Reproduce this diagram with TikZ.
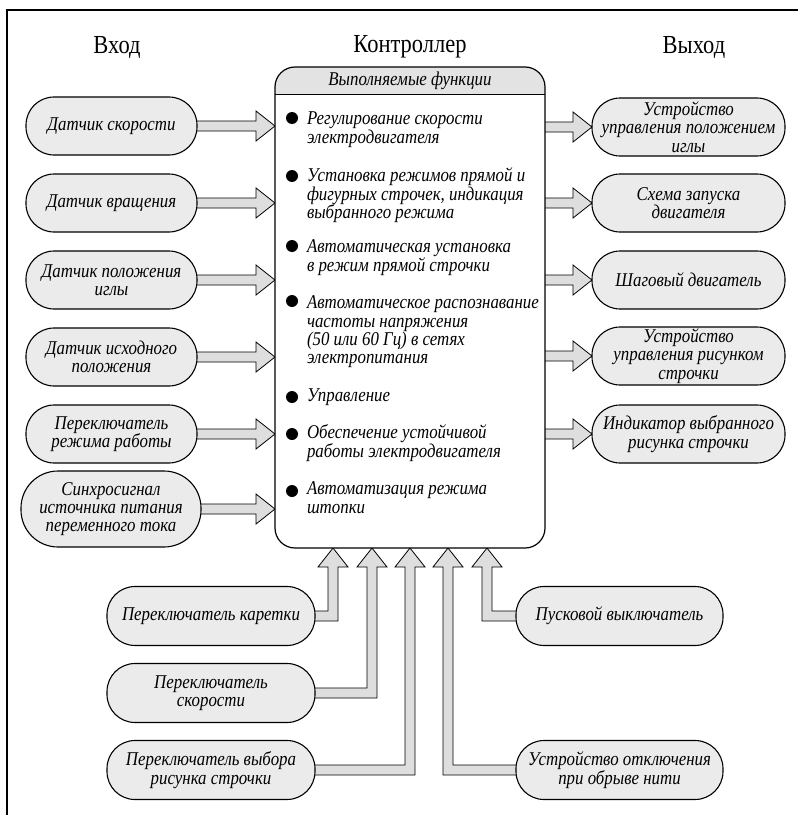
\documentclass[tikz,border=0pt]{standalone}
\usepackage{fontspec}
\setmainfont{Liberation Serif}[FakeStretch=0.865]
\usetikzlibrary{calc,backgrounds}
\definecolor{boxfill}{gray}{0.92}
\definecolor{arrfill}{gray}{0.87}
\definecolor{hdrfill}{gray}{0.89}
\tikzset{
  every node/.style={inner sep=0pt, outer sep=0pt},
  txt/.style={font=\fontsize{19.5bp}{18.3bp}\selectfont\itshape},
  pill/.style={txt, draw, fill=boxfill, line width=1.1bp, rounded corners=28bp,
    minimum height=58bp, align=center},
  titletext/.style={font=\fontsize{26bp}{28bp}\selectfont},
  fat/.style={draw, fill=arrfill, line width=0.8bp, line join=miter},
  itemtext/.style={txt, anchor=base west, align=left},
  bul/.style={fill=black, circle, minimum size=12bp},
}
\newcommand\arrR[2]{%
  \filldraw[fat] ($(#1)+(0,-5)$) -- ($(#2)+(-19,-5)$) -- ($(#2)+(-19,-15)$) -- (#2)
    -- ($(#2)+(-19,15)$) -- ($(#2)+(-19,5)$) -- ($(#1)+(0,5)$);}
\newcommand\arrUL[3]{%
  \filldraw[fat] ($(#1)+(0,-5)$) -- ($(#2)+(-5,-5)$) -- ($(#3)+(-5,19)$) -- ($(#3)+(-15,19)$)
    -- (#3) -- ($(#3)+(15,19)$) -- ($(#3)+(5,19)$) -- ($(#2)+(5,5)$) -- ($(#1)+(0,5)$);}
\newcommand\arrUR[3]{%
  \filldraw[fat] ($(#1)+(0,-5)$) -- ($(#2)+(5,-5)$) -- ($(#3)+(5,19)$) -- ($(#3)+(15,19)$)
    -- (#3) -- ($(#3)+(-15,19)$) -- ($(#3)+(-5,19)$) -- ($(#2)+(-5,5)$) -- ($(#1)+(0,5)$);}
\begin{document}
\begin{tikzpicture}[x=1bp,y=-1bp]
\useasboundingbox (0,0) rectangle (798,815);
\draw[line width=1.1bp] (798,10) -- (7,10) -- (7,815);

% titles
\node[titletext] (tin) at (117,48) {Вход};
\node[titletext] (tctrl) at (410,47) {Контроллер};
\node[titletext] (tout) at (694,48) {Выход};

% controller
\node[fill=white, minimum width=270bp, minimum height=481bp] (ctrl) at (410,307.5) {};
\begin{scope}
  \clip[rounded corners=20bp] (ctrl.south west) rectangle (ctrl.north east);
  \fill[hdrfill] (ctrl.north west) rectangle ($(ctrl.north east)+(0,28)$);
\end{scope}
\draw[line width=1bp] ($(ctrl.north west)+(0,28)$) -- ($(ctrl.north east)+(0,28)$);
\draw[line width=1.2bp, rounded corners=20bp] (ctrl.south west) rectangle (ctrl.north east);
\node[txt] (hdr) at (410,81) {Выполняемые функции};

% functions (anchor at baseline of the last line)
\node[bul] (d1) at (292,118) {};
\node[itemtext] (f1) at (307,143) {Регулирование скорости\\электродвигателя};
\node[bul] (d2) at (292,176) {};
\node[itemtext] (f2) at (307,218.3) {Установка режимов прямой и\\фигурных строчек, индикация\\выбранного режима};
\node[bul] (d3) at (292,246) {};
\node[itemtext] (f3) at (307,271) {Автоматическая установка\\в режим прямой строчки};
\node[bul] (d4) at (292,301) {};
\node[itemtext] (f4) at (307,363.6) {Автоматическое распознавание\\частоты напряжения\\(50 или 60 Гц) в сетях\\электропитания};
\node[bul] (d5) at (292,397) {};
\node[itemtext] (f5) at (307,401.7) {Управление};
\node[bul] (d6) at (292,434) {};
\node[itemtext] (f6) at (307,457) {Обеспечение устойчивой\\работы электродвигателя};
\node[bul] (d7) at (292,491) {};
\node[itemtext] (f7) at (307,513) {Автоматизация режима\\штопки};

% inputs
\node[pill, minimum width=171bp] (in1) at (111.5,126) {Датчик скорости};
\node[pill, minimum width=171bp] (in2) at (111.5,203) {Датчик вращения};
\node[pill, minimum width=171bp] (in3) at (111.5,280) {Датчик положения\\иглы};
\node[pill, minimum width=171bp] (in4) at (111.5,357) {Датчик исходного\\положения};
\node[pill, minimum width=171bp] (in5) at (111.5,434) {Переключатель\\режима работы};
\node[pill, minimum width=180bp, minimum height=76bp, rounded corners=37bp] (in6) at (111,509) {Синхросигнал\\источника питания\\переменного тока};

% outputs
\node[pill, minimum width=193bp] (out1) at (688.5,127) {Устройство\\управления положением\\иглы};
\node[pill, minimum width=193bp] (out2) at (688.5,203) {Схема запуска\\двигателя};
\node[pill, minimum width=193bp] (out3) at (688.5,280) {Шаговый двигатель};
\node[pill, minimum width=193bp] (out4) at (688.5,356) {Устройство\\управления рисунком\\строчки};
\node[pill, minimum width=193bp] (out5) at (688.5,434) {Индикатор выбранного\\рисунка строчки};

% bottom inputs
\node[pill, minimum width=208bp, minimum height=59bp] (bl1) at (211,616) {Переключатель каретки};
\node[pill, minimum width=208bp, minimum height=59bp] (bl2) at (211,693) {Переключатель\\скорости};
\node[pill, minimum width=208bp, minimum height=59bp] (bl3) at (211,770) {Переключатель выбора\\рисунка строчки};
\node[pill, minimum width=207bp, minimum height=59bp] (br1) at (619.5,616) {Пусковой выключатель};
\node[pill, minimum width=207bp, minimum height=59bp] (br2) at (619.5,770) {Устройство отключения\\при обрыве нити};

% connector end points
\foreach \n in {1,...,6} { \coordinate (ti\n) at (in\n.east -| ctrl.west); }
\foreach \n in {1,...,5} { \coordinate (so\n) at (out\n.west -| ctrl.east); }
\coordinate (tb1) at ($(ctrl.south west)+(58,0)$);
\coordinate (tb2) at ($(ctrl.south west)+(97,0)$);
\coordinate (tb3) at ($(ctrl.south west)+(135,0)$);
\coordinate (tb4) at ($(ctrl.south west)+(173,0)$);
\coordinate (tb5) at ($(ctrl.south west)+(212,0)$);
\coordinate (cb1) at (tb1 |- bl1.east);
\coordinate (cb2) at (tb2 |- bl2.east);
\coordinate (cb3) at (tb3 |- bl3.east);
\coordinate (cb4) at (tb4 |- br2.west);
\coordinate (cb5) at (tb5 |- br1.west);

\begin{scope}[on background layer]
  \arrR{in1.east}{ti1}
  \arrR{in2.east}{ti2}
  \arrR{in3.east}{ti3}
  \arrR{in4.east}{ti4}
  \arrR{in5.east}{ti5}
  \arrR{in6.east}{ti6}
  \arrR{so1}{out1.west}
  \arrR{so2}{out2.west}
  \arrR{so3}{out3.west}
  \arrR{so4}{out4.west}
  \arrR{so5}{out5.west}
  \arrUL{bl1.east}{cb1}{tb1}
  \arrUL{bl2.east}{cb2}{tb2}
  \arrUL{bl3.east}{cb3}{tb3}
  \arrUR{br2.west}{cb4}{tb4}
  \arrUR{br1.west}{cb5}{tb5}
\end{scope}
\end{tikzpicture}
\end{document}
